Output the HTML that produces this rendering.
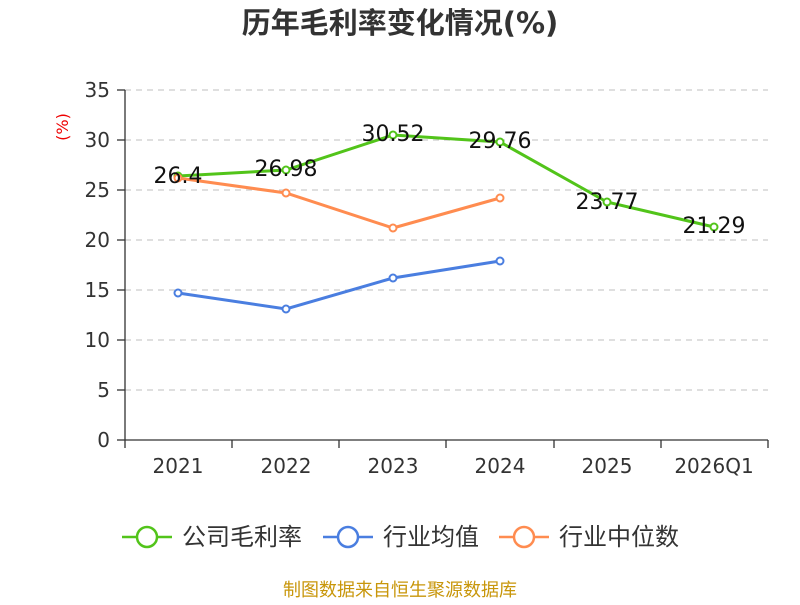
<!DOCTYPE html>
<html><head><meta charset="utf-8"><style>body{margin:0;background:#fff}</style></head><body>
<svg width="800" height="600" xmlns="http://www.w3.org/2000/svg" font-family="'DejaVu Sans','Noto Sans CJK SC',sans-serif">
<rect width="800" height="600" fill="#fff"/>
<text x="400" y="33" text-anchor="middle" font-size="29" font-weight="bold" fill="#333">历年毛利率变化情况(%)</text>
<text x="68" y="127" font-size="16" fill="#e00" text-anchor="middle" transform="rotate(-90 68 127)">(%)</text>
<g stroke="#ccc" stroke-dasharray="6,5" stroke-width="1.3">
<line x1="125" x2="768" y1="90" y2="90"/><line x1="125" x2="768" y1="140" y2="140"/><line x1="125" x2="768" y1="190" y2="190"/><line x1="125" x2="768" y1="240" y2="240"/><line x1="125" x2="768" y1="290" y2="290"/><line x1="125" x2="768" y1="340" y2="340"/><line x1="125" x2="768" y1="390" y2="390"/>
</g>
<g stroke="#333" stroke-width="1.3">
<line x1="125" y1="90" x2="125" y2="440"/><line x1="125" y1="440" x2="768" y2="440"/>
<line x1="117" x2="125" y1="90" y2="90"/><line x1="117" x2="125" y1="140" y2="140"/><line x1="117" x2="125" y1="190" y2="190"/><line x1="117" x2="125" y1="240" y2="240"/><line x1="117" x2="125" y1="290" y2="290"/><line x1="117" x2="125" y1="340" y2="340"/><line x1="117" x2="125" y1="390" y2="390"/><line x1="117" x2="125" y1="440" y2="440"/>
<line x1="125" x2="125" y1="440" y2="448"/><line x1="232" x2="232" y1="440" y2="448"/><line x1="339" x2="339" y1="440" y2="448"/><line x1="446" x2="446" y1="440" y2="448"/><line x1="554" x2="554" y1="440" y2="448"/><line x1="661" x2="661" y1="440" y2="448"/><line x1="768" x2="768" y1="440" y2="448"/>
</g>
<g font-size="20" fill="#333" text-anchor="end">
<text x="110" y="97">35</text><text x="110" y="147">30</text><text x="110" y="197">25</text><text x="110" y="247">20</text><text x="110" y="297">15</text><text x="110" y="347">10</text><text x="110" y="397">5</text><text x="110" y="447">0</text>
</g>
<g font-size="20" fill="#333" text-anchor="middle">
<text x="178" y="473">2021</text><text x="286" y="473">2022</text><text x="393" y="473">2023</text><text x="500" y="473">2024</text><text x="607" y="473">2025</text><text x="714" y="473">2026Q1</text>
</g>
<g fill="#fff" stroke-width="2">
<polyline points="178,176 286,170 393,135 500,142 607,202 714,227" fill="none" stroke="#52c41a" stroke-width="3"/>
<polyline points="178,293 286,309 393,278 500,261" fill="none" stroke="#4a7ee0" stroke-width="3"/>
<polyline points="178,178 286,193 393,228 500,198" fill="none" stroke="#ff8c50" stroke-width="3"/>
<g stroke="#52c41a"><circle cx="178" cy="176" r="3.5"/><circle cx="286" cy="170" r="3.5"/><circle cx="393" cy="135" r="3.5"/><circle cx="500" cy="142" r="3.5"/><circle cx="607" cy="202" r="3.5"/><circle cx="714" cy="227" r="3.5"/></g>
<g stroke="#4a7ee0"><circle cx="178" cy="293" r="3.5"/><circle cx="286" cy="309" r="3.5"/><circle cx="393" cy="278" r="3.5"/><circle cx="500" cy="261" r="3.5"/></g>
<g stroke="#ff8c50"><circle cx="178" cy="178" r="3.5"/><circle cx="286" cy="193" r="3.5"/><circle cx="393" cy="228" r="3.5"/><circle cx="500" cy="198" r="3.5"/></g>
</g>
<g font-size="22" fill="#111" text-anchor="middle">
<text x="178" y="183">26.4</text><text x="286" y="176">26.98</text><text x="393" y="141">30.52</text><text x="500" y="148">29.76</text><text x="607" y="209">23.77</text><text x="714" y="233">21.29</text>
</g>
<g stroke-width="2.5" fill="#fff">
<line x1="122" x2="172" y1="537" y2="537" stroke="#52c41a"/><circle cx="147" cy="537" r="10" stroke="#52c41a"/>
<line x1="323" x2="373" y1="537" y2="537" stroke="#4a7ee0"/><circle cx="348" cy="537" r="10" stroke="#4a7ee0"/>
<line x1="499" x2="549" y1="537" y2="537" stroke="#ff8c50"/><circle cx="524" cy="537" r="10" stroke="#ff8c50"/>
</g>
<g font-size="24" fill="#333">
<text x="182" y="545">公司毛利率</text><text x="383" y="545">行业均值</text><text x="559" y="545">行业中位数</text>
</g>
<text x="400" y="596" text-anchor="middle" font-size="18" fill="#c8960a">制图数据来自恒生聚源数据库</text>
</svg>
</body></html>
